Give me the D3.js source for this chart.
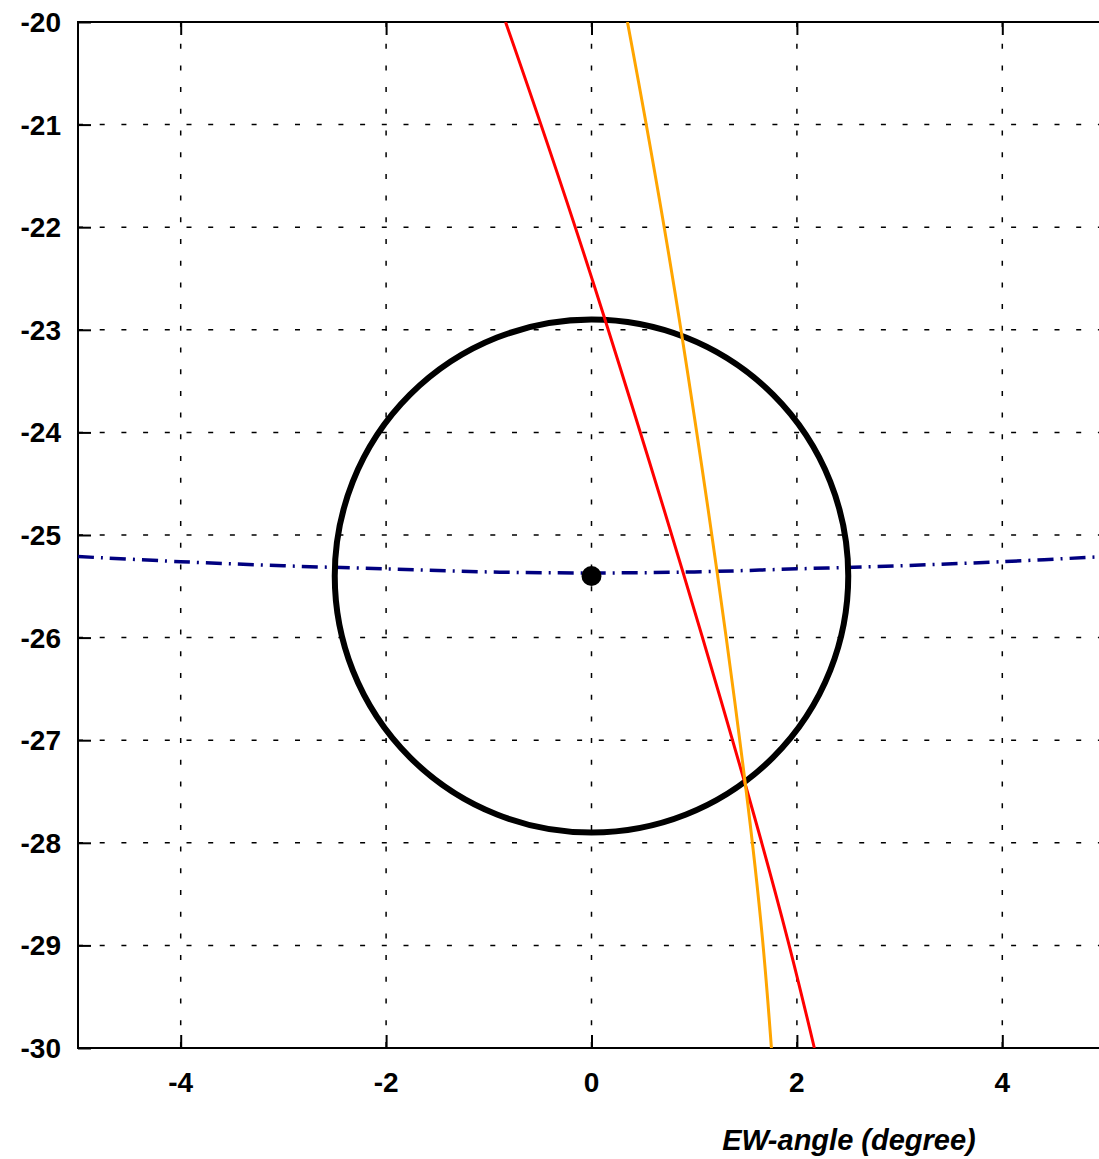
<!DOCTYPE html>
<html>
<head>
<meta charset="utf-8">
<script src="https://cdnjs.cloudflare.com/ajax/libs/d3/7.8.5/d3.min.js"></script>
<style>
  body { margin: 0; background: #fff; }
  .tick-label { font-family: "Liberation Sans", Arial, sans-serif; font-weight: bold; font-size: 28px; fill: #000; }
</style>
</head>
<body>
<div id="chart"></div>
<script>
// data
var xTicks = [-4, -2, 0, 2, 4];
var yTicks = [-20, -21, -22, -23, -24, -25, -26, -27, -28, -29, -30];
var xDomain = [-5, 5];
var yDomain = [-30, -20];

// sun disk: centre and radius (degrees)
var diskCenter = [0, -25.4];
var diskRadius = 2.5;

// dashed navy path
var pathX = [-5, -4, -3, -2, -1, 0, 1, 2, 3, 4, 5];
var pathY = [-25.21, -25.26, -25.30, -25.33, -25.36, -25.37, -25.36, -25.33, -25.30, -25.26, -25.21];

// red track
var redX = [-0.837, 0.136, 1.499, 2.170];
var redY = [-20, -22.914, -27.437, -30];

// orange track
var orangeX = [0.350, 0.876, 1.499, 1.752];
var orangeY = [-20, -23.031, -27.437, -30];

var W = 1099, H = 1159;
var margin = {top: 22, left: 78, bottom: 111};
var plotW = 1027, plotH = H - margin.top - margin.bottom;

var svg = d3.select("#chart").append("svg")
    .attr("width", W)
    .attr("height", H);

var x = d3.scaleLinear().domain(xDomain).range([margin.left, margin.left + plotW]);
var y = d3.scaleLinear().domain(yDomain).range([margin.top + plotH, margin.top]);

svg.append("clipPath").attr("id", "clip")
  .append("rect")
    .attr("x", margin.left).attr("y", margin.top)
    .attr("width", plotW).attr("height", plotH);

// grid
var grid = svg.append("g").attr("class", "grid");
grid.selectAll(".vgrid").data(xTicks).enter().append("line")
    .attr("x1", function(d) { return x(d); })
    .attr("x2", function(d) { return x(d); })
    .attr("y1", y(yDomain[1]))
    .attr("y2", y(yDomain[0]))
    .attr("stroke", "#000")
    .attr("stroke-width", 1.5)
    .attr("stroke-dasharray", "5,16.7");
grid.selectAll(".hgrid").data(yTicks.slice(1, -1)).enter().append("line")
    .attr("x1", x(xDomain[0]))
    .attr("x2", x(xDomain[1]))
    .attr("y1", function(d) { return y(d); })
    .attr("y2", function(d) { return y(d); })
    .attr("stroke", "#000")
    .attr("stroke-width", 1.5)
    .attr("stroke-dasharray", "5,16.7");

// axes: inward ticks only, border drawn separately
var tickLen = 13;
var xAxisB = d3.axisTop(x).tickValues(xTicks).tickSize(tickLen).tickFormat("");
var xAxisT = d3.axisBottom(x).tickValues(xTicks).tickSize(tickLen).tickFormat("");
var yAxisL = d3.axisRight(y).tickValues(yTicks).tickSize(tickLen).tickFormat("");

svg.append("g").attr("transform", "translate(0," + y(yDomain[0]) + ")").call(xAxisB);
svg.append("g").attr("transform", "translate(0," + y(yDomain[1]) + ")").call(xAxisT);
svg.append("g").attr("transform", "translate(" + x(xDomain[0]) + ",0)").call(yAxisL);
svg.selectAll(".domain").remove();
svg.selectAll(".tick line").attr("stroke", "#000").attr("stroke-width", 2);

// border
svg.append("rect")
    .attr("x", x(xDomain[0])).attr("y", y(yDomain[1]))
    .attr("width", plotW).attr("height", plotH)
    .attr("fill", "none")
    .attr("stroke", "#000")
    .attr("stroke-width", 2);

// tick labels
svg.selectAll(".xlab").data(xTicks).enter().append("text")
    .attr("class", "tick-label")
    .attr("x", function(d) { return x(d); })
    .attr("y", y(yDomain[0]) + 44)
    .attr("text-anchor", "middle")
    .text(function(d) { return d; });
svg.selectAll(".ylab").data(yTicks).enter().append("text")
    .attr("class", "tick-label")
    .attr("x", 61)
    .attr("y", function(d) { return y(d) + 10; })
    .attr("text-anchor", "end")
    .text(function(d) { return d; });

// axis title
svg.append("text")
    .attr("x", 849)
    .attr("y", 1150)
    .attr("text-anchor", "middle")
    .style("font-family", "'Liberation Sans', Arial, sans-serif")
    .style("font-weight", "bold")
    .style("font-style", "italic")
    .style("font-size", "29px")
    .text("EW-angle (degree)");

var plot = svg.append("g").attr("clip-path", "url(#clip)");

// dashed navy curve
var line = d3.line()
    .x(function(d) { return x(d[0]); })
    .y(function(d) { return y(d[1]); })
    .curve(d3.curveCatmullRom);

plot.append("path")
    .datum(d3.zip(pathX, pathY))
    .attr("d", line)
    .attr("fill", "none")
    .attr("stroke", "#000080")
    .attr("stroke-width", 3.5)
    .attr("stroke-dasharray", "16,7,2,7");

// disk
plot.append("ellipse")
    .attr("cx", x(diskCenter[0]))
    .attr("cy", y(diskCenter[1]))
    .attr("rx", x(diskRadius) - x(0))
    .attr("ry", y(0) - y(diskRadius))
    .attr("fill", "none")
    .attr("stroke", "#000")
    .attr("stroke-width", 6);

plot.append("circle")
    .attr("cx", x(diskCenter[0]))
    .attr("cy", y(diskCenter[1]))
    .attr("r", 10)
    .attr("fill", "#000");

// tracks
var trackLine = d3.line()
    .x(function(d) { return x(d[0]); })
    .y(function(d) { return y(d[1]); })
    .curve(d3.curveNatural);

plot.append("path")
    .datum(d3.zip(redX, redY))
    .attr("d", trackLine)
    .attr("fill", "none")
    .attr("stroke", "#ff0000")
    .attr("stroke-width", 3);

plot.append("path")
    .datum(d3.zip(orangeX, orangeY))
    .attr("d", trackLine)
    .attr("fill", "none")
    .attr("stroke", "#ffa500")
    .attr("stroke-width", 3);
</script>
</body>
</html>
